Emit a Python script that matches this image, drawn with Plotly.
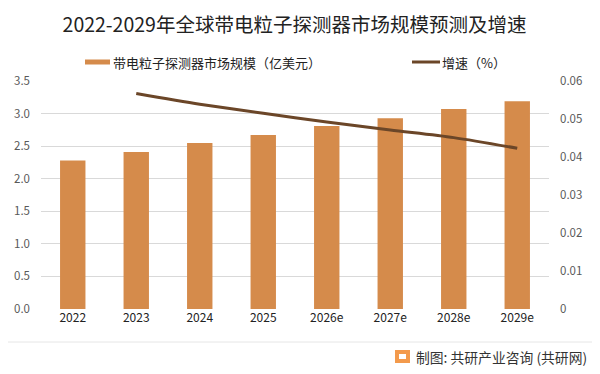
import plotly.graph_objects as go

categories = ["2022", "2023", "2024", "2025", "2026e", "2027e", "2028e", "2029e"]
market_size = [2.28, 2.41, 2.55, 2.67, 2.81, 2.93, 3.07, 3.19]
growth_cats = ["2023", "2024", "2025", "2026e", "2027e", "2028e", "2029e"]
growth_rate = [0.0567, 0.0539, 0.0515, 0.0492, 0.0471, 0.0451, 0.0423]
left_ticks = [0, 0.5, 1.0, 1.5, 2.0, 2.5, 3.0, 3.5]
right_ticks = [0, 0.01, 0.02, 0.03, 0.04, 0.05, 0.06]
bar_name = "带电粒子探测器市场规模（亿美元）"
line_name = "增速（%）"
title_text = "2022-2029年全球带电粒子探测器市场规模预测及增速"
source_text = "制图: 共研产业咨询 (共研网)"

FONT = "Noto Sans CJK SC"
W, H = 600, 374
L, R, T, B = 41, 51, 81, 65
PW, PH = W - L - R, H - T - B
BAR_COLOR = "#D58B4B"
LINE_COLOR = "#6B4628"


def px(x):
    return (x - L) / PW


def py(y):
    return (H - B - y) / PH


fig = go.Figure()
fig.add_trace(go.Bar(
    x=categories, y=market_size, name=bar_name,
    marker=dict(color=BAR_COLOR, line=dict(width=0)), showlegend=False,
))
fig.add_trace(go.Scatter(
    x=growth_cats, y=growth_rate, name=line_name, yaxis="y2", mode="lines",
    line=dict(color=LINE_COLOR, width=3, shape="spline", smoothing=0.8), showlegend=False,
))

fig.update_layout(
    width=W, height=H, margin=dict(l=L, r=R, t=T, b=B),
    paper_bgcolor="white", plot_bgcolor="white",
    font=dict(family=FONT, size=12, color="#404040"),
    bargap=0.6,
    title=dict(text=title_text,
               x=294.5 / W, xanchor="center", y=1 - 25.5 / H, yanchor="middle",
               font=dict(family=FONT, size=19.5, color="#222222")),
    xaxis=dict(type="category", showgrid=False, zeroline=False, showline=False,
               ticks="", tickfont=dict(size=12, color="#222222")),
    yaxis=dict(range=[0, 3.5], tickvals=left_ticks, tickformat=".1f",
               showgrid=True, gridcolor="#D9D9D9", gridwidth=1, zeroline=False,
               ticks="", tickfont=dict(size=11.5, color="#595959"), ticklabelstandoff=10),
    yaxis2=dict(range=[0, 0.06], tickvals=right_ticks, overlaying="y", side="right",
                showgrid=False, zeroline=False, ticks="",
                tickfont=dict(size=11.5, color="#595959"), ticklabelstandoff=10),
)

# manual legend
fig.add_shape(type="rect", xref="paper", yref="paper",
              x0=px(85), x1=px(110), y0=py(64.5), y1=py(59.5),
              fillcolor=BAR_COLOR, line=dict(width=0))
fig.add_annotation(text=bar_name, xref="paper", yref="paper", x=px(111), y=py(62),
                   xanchor="left", yanchor="middle", showarrow=False,
                   font=dict(family=FONT, size=13, color="#222222"))
fig.add_shape(type="line", xref="paper", yref="paper",
              x0=px(412), x1=px(440), y0=py(62), y1=py(62),
              line=dict(color=LINE_COLOR, width=3))
fig.add_annotation(text=line_name, xref="paper", yref="paper", x=px(440), y=py(62),
                   xanchor="left", yanchor="middle", showarrow=False,
                   font=dict(family=FONT, size=13, color="#222222"))

# bottom separator line
fig.add_shape(type="line", xref="paper", yref="paper",
              x0=px(8), x1=px(592), y0=py(342), y1=py(342),
              line=dict(color="#E6E6E6", width=1))
# logo mark
fig.add_shape(type="rect", xref="paper", yref="paper",
              x0=px(395), x1=px(410), y0=py(363), y1=py(350),
              fillcolor="#F39A4C", line=dict(width=0))
fig.add_shape(type="rect", xref="paper", yref="paper",
              x0=px(399), x1=px(406), y0=py(359), y1=py(354),
              fillcolor="white", line=dict(width=0))
fig.add_annotation(text=source_text, xref="paper", yref="paper",
                   x=px(589), y=py(357),
                   xanchor="right", yanchor="middle", showarrow=False,
                   font=dict(family=FONT, size=13.8, color="#333333"))

fig.write_html("out.html", config={"displayModeBar": False},
               post_script="document.body.style.margin='0';document.body.style.padding='0';")
